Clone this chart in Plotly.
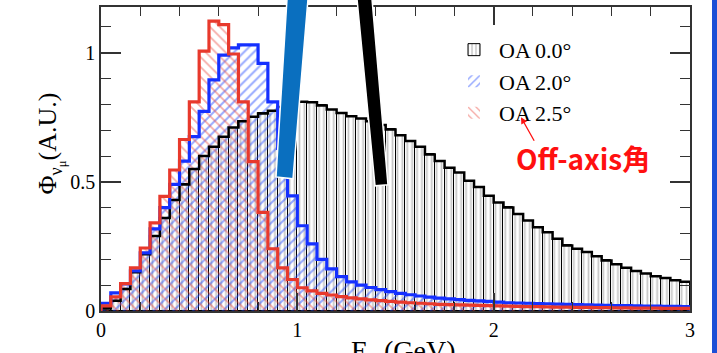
import plotly.graph_objects as go

# ---------------- data (60 bins of 0.05 GeV from 0 to 3 GeV) ----------------
bin_width = 0.05
bin_edges = [round(i * bin_width, 3) for i in range(61)]
bin_centers = [round((i + 0.5) * bin_width, 3) for i in range(60)]

flux_oa00 = [0.01, 0.04, 0.085, 0.15, 0.22, 0.29, 0.36, 0.43, 0.49, 0.55,
             0.60, 0.636, 0.675, 0.71, 0.735, 0.752, 0.765, 0.775, 0.79, 0.80,
             0.81, 0.808, 0.796, 0.78, 0.767, 0.754, 0.745, 0.735, 0.72, 0.703,
             0.68, 0.658, 0.636, 0.606, 0.581, 0.555, 0.536, 0.504, 0.48, 0.446,
             0.42, 0.401, 0.376, 0.35, 0.324, 0.305, 0.28, 0.254, 0.241, 0.228,
             0.212, 0.196, 0.181, 0.167, 0.155, 0.145, 0.135, 0.128, 0.119, 0.113]

flux_oa20 = [0.03, 0.07, 0.105, 0.155, 0.225, 0.318, 0.40, 0.49, 0.58, 0.675,
             0.773, 0.895, 0.991, 1.019, 1.03, 1.03, 0.959, 0.81, 0.63, 0.446,
             0.33, 0.26, 0.20, 0.163, 0.133, 0.113, 0.10, 0.091, 0.083, 0.075,
             0.068, 0.063, 0.058, 0.054, 0.05, 0.047, 0.044, 0.041, 0.039, 0.037,
             0.034, 0.032, 0.031, 0.03, 0.029, 0.028, 0.027, 0.026, 0.025, 0.024,
             0.023, 0.022, 0.021, 0.021, 0.02, 0.019, 0.019, 0.018, 0.018, 0.017]

flux_oa25 = [0.02, 0.055, 0.106, 0.167, 0.244, 0.341, 0.444, 0.546, 0.664, 0.81,
             1.006, 1.122, 1.109, 0.995, 0.81, 0.578, 0.382, 0.241, 0.167, 0.122,
             0.09, 0.078, 0.068, 0.062, 0.056, 0.051, 0.047, 0.043, 0.04, 0.037,
             0.034, 0.032, 0.03, 0.028, 0.026, 0.025, 0.024, 0.023, 0.022, 0.021,
             0.02, 0.019, 0.018, 0.017, 0.017, 0.016, 0.015, 0.015, 0.014, 0.014,
             0.013, 0.013, 0.012, 0.012, 0.011, 0.011, 0.011, 0.01, 0.01, 0.01]

labels = ["OA 0.0°", "OA 2.0°", "OA 2.5°"]

# ---------------- styles ----------------
SERIF = "Liberation Serif, Times New Roman, serif"
W, H = 717, 353
ML, MR, MT, MB = 101, 27, 5, 42
PW, PH = W - ML - MR, H - MT - MB


def px(x):
    return (x - ML) / PW


def py(y):
    return (H - MB - y) / PH


def step_xy(vals):
    xs = [0.0] + bin_edges[:-1] + [bin_edges[-1]]
    ys = [0.0] + list(vals) + [vals[-1]]
    return xs, ys


fig = go.Figure()

series = [
    (flux_oa00, labels[0], "black", dict(shape="|", size=4.9, solidity=0.35,
                                        fgcolor="#8a8a8a", bgcolor="rgba(0,0,0,0)"), 1.0, 2.5),
    (flux_oa20, labels[1], "#1530ff", dict(shape="/", size=7, solidity=0.28,
                                          fgcolor="rgba(35,75,255,0.95)", bgcolor="rgba(0,0,0,0)"), 0, 3.2),
    (flux_oa25, labels[2], "#e8392c", dict(shape="\\", size=7, solidity=0.25,
                                          fgcolor="rgba(235,70,60,0.9)", bgcolor="rgba(0,0,0,0)"), 0, 3.2),
]

for vals, name, col, pat, lw, olw in series:
    fig.add_trace(go.Bar(
        x=bin_centers, y=vals, width=bin_width, name=name,
        marker=dict(color=pat["fgcolor"], pattern=pat,
                    line=dict(color="black", width=lw)),
        showlegend=True,
    ))

for vals, name, col, pat, lw, olw in series:
    xs, ys = step_xy(vals)
    fig.add_trace(go.Scatter(
        x=xs, y=ys, mode="lines", line=dict(color=col, width=olw, shape="hv"),
        showlegend=False, hoverinfo="skip",
    ))

axis_common = dict(
    showline=True, linecolor="#333", linewidth=1.5, mirror="allticks",
    ticks="inside", tickcolor="#333", tickwidth=1.5,
    showgrid=False, zeroline=False,
    tickfont=dict(family=SERIF, size=20, color="black"),
)

fig.update_xaxes(range=[0, 3], tickvals=[0, 1, 2, 3], ticktext=["0", "1", "2", "3"],
                 ticklen=18, minor=dict(dtick=0.2, ticklen=9, ticks="inside",
                                        tickcolor="#333", tickwidth=1.3),
                 **axis_common)
fig.update_yaxes(range=[0, 1.177], tickvals=[0, 0.5, 1], ticktext=["0", "0.5", "1"],
                 ticklen=20, minor=dict(dtick=0.1, ticklen=10, ticks="inside",
                                        tickcolor="#333", tickwidth=1.3),
                 **axis_common)

shapes = [
    # thick blue slanted marker line
    dict(type="path", xref="paper", yref="paper",
         path=f"M {px(287)},{py(-3)} L {px(308)},{py(-3)} L {px(293)},{py(178)} L {px(276)},{py(176)} Z",
         fillcolor="#0a6fbf", line=dict(color="white", width=1.5), layer="above"),
    # thick black slanted marker line
    dict(type="path", xref="paper", yref="paper",
         path=f"M {px(357)},{py(-3)} L {px(372)},{py(-3)} L {px(388)},{py(184)} L {px(375)},{py(185)} Z",
         fillcolor="black", line=dict(color="white", width=1.5), layer="above"),
    # blue strip at the right edge
    dict(type="rect", xref="paper", yref="paper",
         x0=px(712), x1=px(719), y0=py(356), y1=py(-3),
         fillcolor="#1c4fd6", line=dict(width=0), layer="above"),
]

annotations = [
    dict(text="Φ<sub>ν<sub>μ</sub></sub>(A.U.)", xref="paper", yref="paper",
         x=px(31), y=py(143), textangle=-90, showarrow=False,
         font=dict(family=SERIF, size=26, color="black")),
    dict(text="E<sub>ν</sub> (GeV)", xref="paper", yref="paper",
         x=px(403), y=py(333), xanchor="center", yanchor="top", showarrow=False,
         font=dict(family=SERIF, size=28, color="black")),
    dict(text="<b>Off-axis角</b>", xref="paper", yref="paper",
         x=px(583), y=py(157), xanchor="center", yanchor="middle", showarrow=False,
         font=dict(family="Noto Sans CJK JP, Noto Sans, sans-serif", size=28, color="#ff1010")),
    dict(text="", xref="paper", yref="paper", x=px(521), y=py(116),
         ax=14, ay=25, showarrow=True, arrowhead=2, arrowsize=1,
         arrowwidth=1.3, arrowcolor="#ff1010"),
]

fig.update_layout(
    width=W, height=H,
    margin=dict(l=ML, r=MR, t=MT, b=MB),
    paper_bgcolor="white", plot_bgcolor="white",
    barmode="overlay", bargap=0,
    shapes=shapes, annotations=annotations,
    legend=dict(x=px(449), y=py(27), xanchor="left", yanchor="top",
                bgcolor="rgba(0,0,0,0)", borderwidth=0,
                font=dict(family=SERIF, size=22, color="black"),
                tracegroupgap=0, itemwidth=40),
    showlegend=True,
)

fig.write_html("out.html")
